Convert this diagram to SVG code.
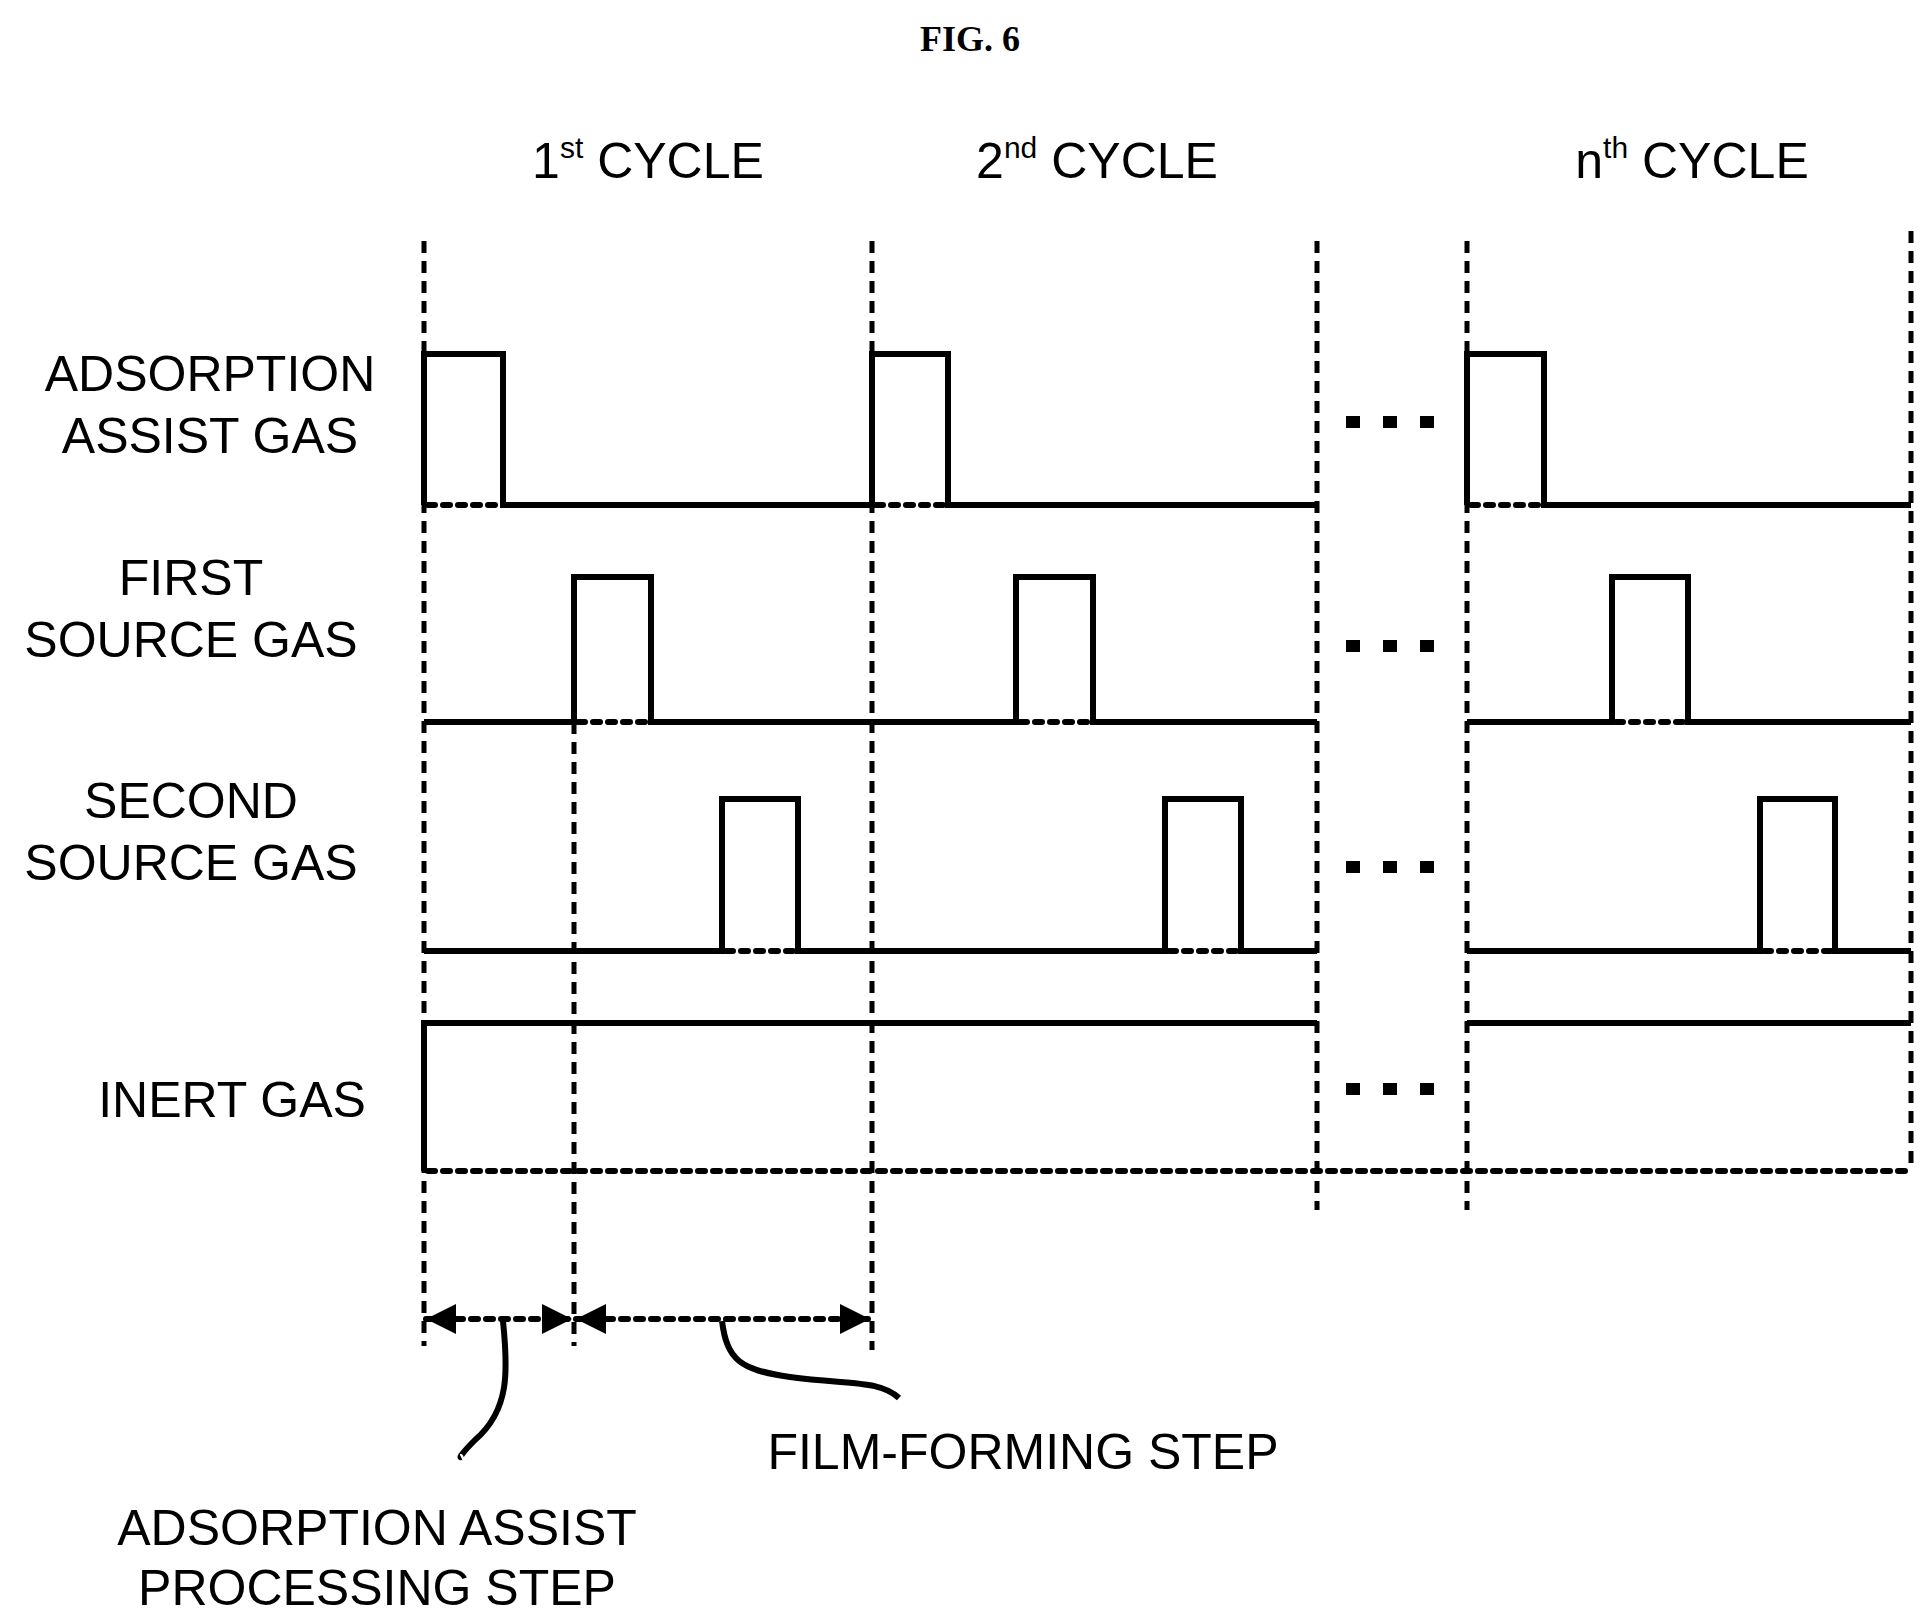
<svg xmlns="http://www.w3.org/2000/svg" width="1927" height="1618" viewBox="0 0 1927 1618">
<style>
.t{font-family:"Liberation Sans",Arial,sans-serif;font-size:50px;fill:#000;text-anchor:middle}
.s{stroke:#000;stroke-width:6;fill:none}
.d{stroke:#000;stroke-width:5;fill:none;stroke-dasharray:12 8}
.o{stroke:#000;stroke-width:6;fill:none;stroke-dasharray:7 8;stroke-linecap:round}
</style>
<defs>
<marker id="a" viewBox="0 0 10 10" refX="10" refY="5" markerWidth="46" markerHeight="30" markerUnits="userSpaceOnUse" orient="auto-start-reverse"><path d="M0 0L10 5L0 10Z" fill="#000"/></marker>
</defs>
<rect width="1927" height="1618" fill="#fff"/>
<text x="970" y="51" style="font-family:'Liberation Serif',serif;font-weight:bold;font-size:36px" text-anchor="middle">FIG. 6</text>
<g id="cycles" class="t">
<text x="648" y="178">1<tspan font-size="30" dy="-20">st</tspan><tspan dy="20"> CYCLE</tspan></text>
<text x="1097" y="178">2<tspan font-size="30" dy="-20">nd</tspan><tspan dy="20"> CYCLE</tspan></text>
<text x="1692" y="178">n<tspan font-size="30" dy="-20">th</tspan><tspan dy="20"> CYCLE</tspan></text>
</g>
<g id="labels" class="t">
<text x="210" y="391">ADSORPTION</text><text x="210" y="453">ASSIST GAS</text>
<text x="191" y="595">FIRST</text><text x="191" y="657">SOURCE GAS</text>
<text x="191" y="818">SECOND</text><text x="191" y="880">SOURCE GAS</text>
<text x="232" y="1117">INERT GAS</text>
</g>
<g id="grid">
<path class="d" d="M424 241V1346M872 241V1350M1317 241V1210M1467 241V1210M1911 231V1171M574 722V1346"/>
</g>
<g id="adsorption">
<path class="s" d="M424 505V354H503V505H872V354H948V505H1317M1467 505V354H1544V505H1911"/>
<path class="o" d="M428 505H500M876 505H945M1471 505H1541"/>
</g>
<g id="first">
<path class="s" d="M424 722H574V577H651V722H1016V577H1093V722H1317M1467 722H1612V577H1688V722H1911"/>
<path class="o" d="M578 722H648M1020 722H1090M1616 722H1685"/>
</g>
<g id="second">
<path class="s" d="M424 951H722V799H798V951H1165V799H1241V951H1317M1467 951H1760V799H1835V951H1911"/>
<path class="o" d="M726 951H795M1169 951H1238M1764 951H1832"/>
</g>
<g id="inert">
<path class="s" d="M424 1171V1023H1317M1467 1023H1911"/>
<path class="o" d="M428 1171H1908"/>
</g>
<g id="ellipsis" fill="#000">
<rect x="1346" y="416" width="14" height="12"/><rect x="1383" y="416" width="14" height="12"/><rect x="1420" y="416" width="14" height="12"/>
<rect x="1346" y="640" width="14" height="12"/><rect x="1383" y="640" width="14" height="12"/><rect x="1420" y="640" width="14" height="12"/>
<rect x="1346" y="861" width="14" height="12"/><rect x="1383" y="861" width="14" height="12"/><rect x="1420" y="861" width="14" height="12"/>
<rect x="1346" y="1083" width="14" height="12"/><rect x="1383" y="1083" width="14" height="12"/><rect x="1420" y="1083" width="14" height="12"/>
</g>
<g id="connectors">
<path class="o" d="M426 1319H572" marker-start="url(#a)" marker-end="url(#a)"/>
<path class="o" d="M576 1319H870" marker-start="url(#a)" marker-end="url(#a)"/>
<path d="M503 1321C508 1370 510 1410 475 1440C463 1452 459 1458 461 1457" class="s"/>
<path d="M722 1321C727 1360 740 1370 790 1377C850 1385 880 1380 899 1398" class="s"/>
</g>
<g id="steps" class="t">
<text x="1023" y="1469">FILM-FORMING STEP</text>
<text x="377" y="1545">ADSORPTION ASSIST</text>
<text x="377" y="1605">PROCESSING STEP</text>
</g>
</svg>
